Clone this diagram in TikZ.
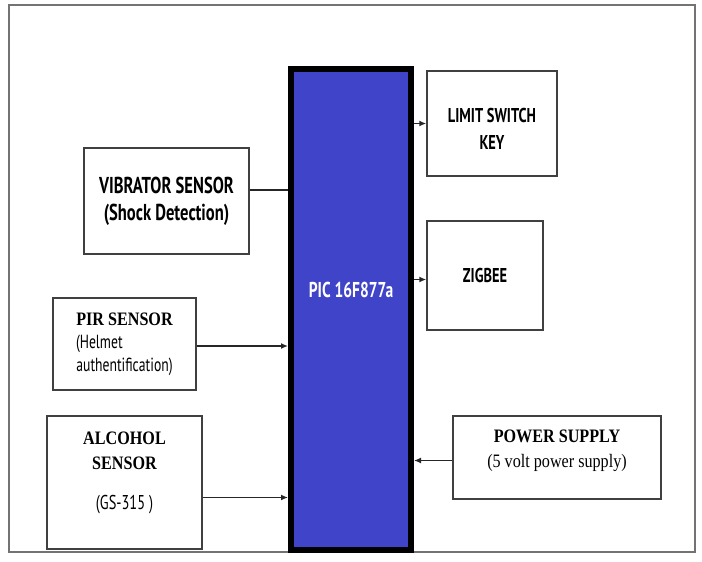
\documentclass[tikz,border=0pt]{standalone}
\usepackage{fontspec}
\usepackage{tikz}
\usetikzlibrary{arrows.meta}
\usetikzlibrary{positioning}
\usetikzlibrary{calc}
\newfontfamily\blocksans[FakeStretch=0.72]{PT Sans}
\newfontfamily\blockserif[FakeStretch=0.85]{Liberation Serif}
\definecolor{picblue}{RGB}{64,68,200}
\colorlet{boxline}{black!75}
\tikzset{>=latex}
\tikzset{
    link/.style = {draw=black!85, line width=1.5pt},
    vis/.style = {link, -{Latex[length=7pt,width=6pt]}},
}
\tikzset{
    frame/.style={draw=black!55, line width=1.6pt},
    block/.style={draw=boxline, line width=1.4pt, fill=white, align=center, inner sep=0pt},
    mcu/.style={draw=black, line width=6pt, fill=picblue, text=white, inner sep=0pt,
        font=\blocksans\bfseries\fontsize{21.5}{24}\selectfont},
    sanstext/.style={font=\blocksans\bfseries\fontsize{#1}{27}\selectfont},
    seriftext/.style={font=\blockserif\fontsize{19}{25}\selectfont},
}

\begin{document}
\begin{tikzpicture}[x=1pt,y=-1pt]
    \useasboundingbox (0,0) rectangle (702,562);
    \draw[frame] (9,5) rectangle (695,552);
    % controller
    \node[mcu, minimum width=120pt, minimum height=481pt, text depth=40pt] (pic) at (351,309.5) {PIC 16F877a};
    % inputs
    \node[block, sanstext=23, minimum width=165pt, minimum height=106pt] (vib) at (166.5,201)
        {VIBRATOR SENSOR\\(Shock Detection)};
    \node[block, font=\blocksans\fontsize{19}{23}\selectfont, minimum width=143pt, minimum height=92pt] (pir) at (124.5,344)
        {{\blockserif\bfseries\fontsize{19}{23}\selectfont PIR SENSOR}\\\makebox[97pt][l]{(Helmet}\\authentification)};
    \node[block, font=\blockserif\bfseries\fontsize{19}{25}\selectfont, minimum width=155pt, minimum height=133pt, text depth=24pt] (alc) at (124.5,482.5)
        {ALCOHOL\\SENSOR\\[15pt]{\blocksans\mdseries\fontsize{20}{20}\selectfont(GS-315 )}};
    % outputs
    \node[block, sanstext=20, minimum width=130pt, minimum height=105pt, text height=51pt] (limit) at (492,123.5)
        {LIMIT SWITCH\\KEY};
    \node[block, sanstext=20, minimum width=116pt, minimum height=109pt] (zig) at (485,275.5) {ZIGBEE};
    \node[block, seriftext, minimum width=208pt, minimum height=83pt, text depth=18pt] (power) at (557,457.5)
        {\textbf{POWER SUPPLY}\\(5 volt power supply)};
    % connectors
    \draw[link] ($(vib.east)+(0,-11)$) -- ($(vib.east -| pic.west)+(0,-11)$);
    \draw[vis] ($(pir.east)+(0,2)$) -- ($(pir.east -| pic.west)+(0,2)$);
    \draw[vis] ($(alc.east)+(0,15)$) -- ($(alc.east -| pic.west)+(0,15)$);
    \draw[vis] (pic.east |- limit.west) -- (limit.west);
    \draw[vis] ($(pic.east |- zig.west)+(0,4)$) -- ($(zig.west)+(0,4)$);
    \draw[vis] ($(power.west)+(0,3)$) -- ($(power.west -| pic.east)+(0,3)$);
\end{tikzpicture}
\end{document}
